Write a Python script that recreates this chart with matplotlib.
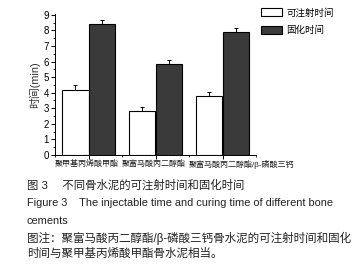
import numpy as np
import matplotlib
matplotlib.use("Agg")
import matplotlib.pyplot as plt
from matplotlib.patches import Patch

#==================================================================================
#     Injectable time and curing time of different bone cements
#==================================================================================

categories = ['聚甲基丙烯酸甲酯', '聚富马酸丙二醇酯', '聚富马酸丙二醇酯/β-磷酸三钙']
injectable = [4.2, 2.8, 3.8]
injectable_err = [0.27, 0.27, 0.27]
curing = [8.4, 5.85, 7.9]
curing_err = [0.25, 0.27, 0.25]
series_names = ['可注射时间', '固化时间']

caption_lines = [
    '图 3　 不同骨水泥的可注射时间和固化时间',
    'Figure 3    The injectable time and curing time of different bone',
    'cements',
    '图注：聚富马酸丙二醇酯/β-磷酸三钙骨水泥的可注射时间和固化',
    '时间与聚甲基丙烯酸甲酯骨水泥相当。',
]

plt.rcParams['font.family'] = ['Liberation Sans', 'Noto Sans CJK SC']

W, H = 357, 274
fig = plt.figure(figsize=(W / 100, H / 100), dpi=100)
ax = fig.add_axes([55 / W, 1 - 155 / H, (256 - 55) / W, (155 - 14) / H])

x = np.arange(len(categories))
width = 0.4
dark = '#3a3a3a'

ax.bar(x - width / 2, injectable, width, color='white', edgecolor='black', linewidth=0.8,
       yerr=[np.zeros(len(x)), injectable_err], error_kw=dict(elinewidth=0.7, capsize=1.5, capthick=0.7))
ax.bar(x + width / 2, curing, width, color=dark, edgecolor='black', linewidth=0.8,
       yerr=[np.zeros(len(x)), curing_err], error_kw=dict(elinewidth=0.7, capsize=1.5, capthick=0.7))

ax.set_xlim(-0.5, 2.5)
ax.set_ylim(0, 9.05)
ax.set_yticks(np.arange(0, 10, 1))
ax.set_yticks(np.arange(0, 9.01, 0.5), minor=True)
ax.set_xticks(x)
ax.set_xticks(np.arange(-0.5, 2.6, 0.5), minor=True)
ax.set_xticklabels([])

# category labels sit a bit left of the group centre, like the original
for xi, name in zip(x, categories):
    ax.text(xi - 0.5, -0.035, name, transform=ax.get_xaxis_transform(),
            fontsize=5.8, ha='left', va='top', color='#222222')

ax.tick_params(axis='both', which='major', direction='out', length=3, width=0.7, labelsize=7, pad=1.5)
ax.tick_params(axis='both', which='minor', direction='out', length=1.5, width=0.6)
ax.spines['top'].set_visible(False)
ax.spines['right'].set_visible(False)
ax.spines['left'].set_linewidth(0.7)
ax.spines['bottom'].set_linewidth(0.7)
ax.set_ylabel('时间(min)', fontsize=7.8, color='#333333', labelpad=2)

handles = [Patch(facecolor='white', edgecolor='black', linewidth=0.8),
           Patch(facecolor=dark, edgecolor='black', linewidth=0.8)]
fig.legend(handles, series_names, loc='upper left', bbox_to_anchor=(257 / W, 1 - 4 / H),
           frameon=False, fontsize=6.8, handlelength=2.2, handleheight=0.8,
           handletextpad=0.5, labelspacing=0.9, borderaxespad=0)

# caption below the chart
caption_y = [185, 203, 221, 238, 254]
caption_size = [8.2, 7.9, 7.9, 8.3, 8.3]
for line, yy, fs in zip(caption_lines, caption_y, caption_size):
    fig.text(27 / W, 1 - yy / H, line, fontsize=fs, va='center', ha='left', color='#222222')

fig.savefig('out.png', dpi=100)
